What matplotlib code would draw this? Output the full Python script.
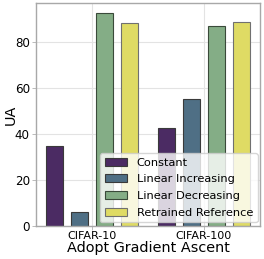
import matplotlib
matplotlib.use("Agg")
import matplotlib.pyplot as plt
import numpy as np

datasets = ["CIFAR-10", "CIFAR-100"]
methods = ["Constant", "Linear Increasing", "Linear Decreasing", "Retrained Reference"]
values = {
    "Constant": [34.7, 42.5],
    "Linear Increasing": [6.1, 55.1],
    "Linear Decreasing": [92.2, 86.7],
    "Retrained Reference": [87.9, 88.3],
}
colors = ["#4b2b63", "#4f6f85", "#84ad86", "#dfdb64"]
edgecolors = ["#3a3a3a", "#3a3a3a", "#3a4a3a", "#707070"]

fig = plt.figure(figsize=(2.64, 2.59), dpi=100)
ax = fig.add_axes([36/264, 1 - 226/259, 224/264, 223/259])

x = np.arange(len(datasets))
step = 0.223
width = 0.16
for i, m in enumerate(methods):
    ax.bar(x + (i - 1.5) * step, values[m], width, color=colors[i],
           edgecolor=edgecolors[i], linewidth=0.8, label=m, zorder=2)

ax.set_xlim(-0.5, 1.5)
ax.set_ylim(0, 96.7)
ax.set_xticks(x)
ax.set_xticklabels(datasets, fontsize=8)
ax.set_yticks([0, 20, 40, 60, 80])
ax.tick_params(axis="y", labelsize=8.6, length=3, width=0.6, color="#b0b0b0", pad=1.5)
ax.tick_params(axis="x", length=3, width=0.6, color="#b0b0b0", pad=0.5)
ax.grid(True, color="#e3e3e3", linewidth=0.8, zorder=0)
ax.set_axisbelow(True)
for s in ax.spines.values():
    s.set_color("#a8a8a8")
    s.set_linewidth(1.0)
ax.set_xlabel("Adopt Gradient Ascent", fontsize=10.4, labelpad=0)
ax.set_ylabel("UA", fontsize=10.4)
ax.yaxis.set_label_coords(-0.082, 0.5)
leg = ax.legend(loc="lower right", bbox_to_anchor=(0.989, 0.017), fontsize=8.2,
                frameon=True, framealpha=0.8,
                borderpad=0.4, labelspacing=0.58, handlelength=2.0,
                handletextpad=0.8, borderaxespad=0.0, fancybox=True)
leg.get_frame().set_edgecolor("#cccccc")
fig.savefig("out.png", dpi=100)
